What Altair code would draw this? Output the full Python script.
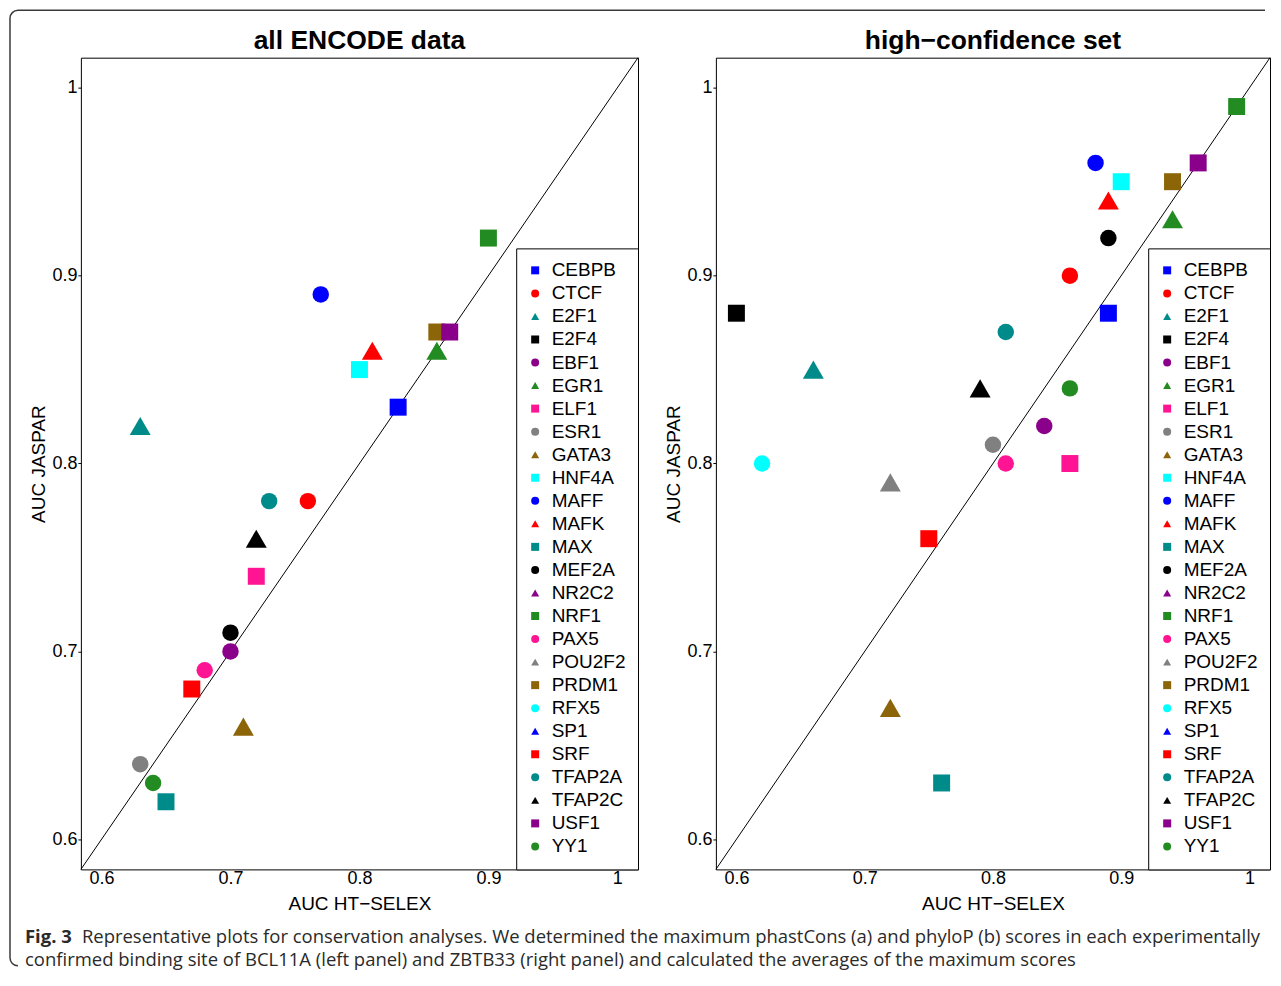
import altair as alt
import pandas as pd

# ---------------- data ----------------
tfs = ["CEBPB", "CTCF", "E2F1", "E2F4", "EBF1", "EGR1", "ELF1", "ESR1", "GATA3",
       "HNF4A", "MAFF", "MAFK", "MAX", "MEF2A", "NR2C2", "NRF1", "PAX5", "POU2F2",
       "PRDM1", "RFX5", "SP1", "SRF", "TFAP2A", "TFAP2C", "USF1", "YY1"]

left_tf = ["CEBPB", "CTCF", "E2F1", "EBF1", "EGR1", "ELF1", "ESR1", "GATA3", "HNF4A",
           "MAFF", "MAFK", "MAX", "MEF2A", "NRF1", "PAX5", "PRDM1", "SRF", "TFAP2A",
           "TFAP2C", "USF1", "YY1"]
left_htselex = [0.83, 0.76, 0.63, 0.70, 0.86, 0.72, 0.63, 0.71, 0.80,
                0.77, 0.81, 0.65, 0.70, 0.90, 0.68, 0.86, 0.67, 0.73,
                0.72, 0.87, 0.64]
left_jaspar = [0.83, 0.78, 0.82, 0.70, 0.86, 0.74, 0.64, 0.66, 0.85,
               0.89, 0.86, 0.62, 0.71, 0.92, 0.69, 0.87, 0.68, 0.78,
               0.76, 0.87, 0.63]

right_tf = ["CEBPB", "CTCF", "E2F1", "E2F4", "EBF1", "EGR1", "ELF1", "ESR1", "GATA3",
            "HNF4A", "MAFF", "MAFK", "MAX", "MEF2A", "NRF1", "PAX5", "POU2F2", "PRDM1",
            "RFX5", "SRF", "TFAP2A", "TFAP2C", "USF1", "YY1"]
right_htselex = [0.89, 0.86, 0.66, 0.60, 0.84, 0.94, 0.86, 0.80, 0.72,
                 0.90, 0.88, 0.89, 0.76, 0.89, 0.99, 0.81, 0.72, 0.94,
                 0.62, 0.75, 0.81, 0.79, 0.96, 0.86]
right_jaspar = [0.88, 0.90, 0.85, 0.88, 0.82, 0.93, 0.80, 0.81, 0.67,
                0.95, 0.96, 0.94, 0.63, 0.92, 0.99, 0.80, 0.79, 0.95,
                0.80, 0.76, 0.87, 0.84, 0.96, 0.84]

tick_values = [0.6, 0.7, 0.8, 0.9, 1.0]
titles = ["all ENCODE data", "high\u2212confidence set"]
x_title = "AUC HT\u2212SELEX"
y_title = "AUC JASPAR"

caption_bold = "Fig. 3"
caption_line1 = ("Representative plots for conservation analyses. We determined the maximum "
                 "phastCons (a) and phyloP (b) scores in each experimentally")
caption_line2 = ("confirmed binding site of BCL11A (left panel) and ZBTB33 (right panel) "
                 "and calculated the averages of the maximum scores")

# ---------------- styling ----------------
palette = ["#0000FF", "#FF0000", "#008B8B", "#000000", "#8B008B",
           "#228B22", "#FF1493", "#808080", "#8B6508", "#00FFFF"]
shape_cycle = ["square", "circle", "triangle-up"]
shape_sizes = [289, 272, 440]
colors = [palette[i % len(palette)] for i in range(len(tfs))]
shapes = [shape_cycle[i % len(shape_cycle)] for i in range(len(tfs))]
shape_of = dict(zip(tfs, shapes))

LO, HI = 0.584, 1.016
PW_L, PW_R, PH = 558, 555, 813
FONT = "Liberation Sans"
CAP_FONT = "Open Sans"
CAP_SIZE = 18.5


def legend():
    return alt.Legend(title=None, orient="bottom-right", offset=0, padding=12.5,
                      strokeColor="black", fillColor="white", labelFontSize=19,
                      labelFont=FONT, labelColor="black", symbolSize=64,
                      rowPadding=3.08, labelOffset=7, symbolOffset=-3,
                      symbolStrokeWidth=0, labelLimit=200)


def text_layer(txt, x, y, size, weight="normal", font=FONT, color="black",
               align="left"):
    return alt.Chart(pd.DataFrame({"t": [txt]})).mark_text(
        font=font, fontSize=size, fontWeight=weight, color=color, align=align,
        baseline="alphabetic"
    ).encode(text="t:N", x=alt.value(x), y=alt.value(y))


def panel(tf, xs, ys, title, width, extra=None):
    df = pd.DataFrame({"tf": tf, "htselex": xs, "jaspar": ys,
                       "kind": [shape_of[t] for t in tf]})
    xenc = alt.X("htselex:Q",
                 scale=alt.Scale(domain=[LO, HI], nice=False, zero=False),
                 axis=alt.Axis(values=tick_values, format="~g", title=x_title,
                               labelFontSize=18, ticks=False, tickSize=0,
                               labelPadding=0, titleFontSize=19, titlePadding=7,
                               labelFlush=False))
    yenc = alt.Y("jaspar:Q",
                 scale=alt.Scale(domain=[LO, HI], nice=False, zero=False),
                 axis=alt.Axis(values=tick_values, format="~g", title=y_title,
                               labelFontSize=18, tickSize=3, tickColor="black",
                               labelPadding=1, titleFontSize=19, titlePadding=3,
                               labelFlush=False))
    pts = alt.Chart(df).mark_point(filled=True, opacity=1).encode(
        x=xenc, y=yenc,
        color=alt.Color("tf:N", scale=alt.Scale(domain=tfs, range=colors), legend=legend()),
        shape=alt.Shape("tf:N", scale=alt.Scale(domain=tfs, range=shapes), legend=legend()),
        size=alt.Size("kind:N", scale=alt.Scale(type="ordinal", domain=shape_cycle,
                                                range=shape_sizes), legend=None),
    )
    diag = alt.Chart(pd.DataFrame({"htselex": [LO, HI], "jaspar": [LO, HI]})).mark_line(
        color="black", strokeWidth=1
    ).encode(x="htselex:Q", y="jaspar:Q")
    ttl = text_layer(title, width / 2, -8.5, 26.5, weight="bold", align="center")
    layers = [diag, pts, ttl]
    if extra:
        layers = extra + layers
    return alt.layer(*layers).properties(width=width, height=PH)


# border + caption live in the left panel (pixel positions relative to its plot origin)
bx0, bx1, by0, by1, r = -71, 1186, -47.5, 909.5, 8
bw, bh = bx1 - bx0, by1 - by0
arc = 3.14159 * r / 2
border = alt.Chart(pd.DataFrame({"k": [0]})).mark_rect(
    fillOpacity=0, stroke="#3a3a3a", strokeWidth=1.5, strokeJoin="round",
    cornerRadiusTopLeft=r, cornerRadiusBottomLeft=r,
    strokeDash=[bw - r, bh + (bw - r), arc + (bh - 2 * r) + arc + 1, 10]
).encode(x=alt.value(bx0), x2=alt.value(bx1), y=alt.value(by0), y2=alt.value(by1))

cap_layers = [
    text_layer(caption_bold, -56, 886.5, CAP_SIZE, weight="bold", font=CAP_FONT, color="#2a2a2a"),
    text_layer(caption_line1, 1, 886.5, CAP_SIZE, font=CAP_FONT, color="#2a2a2a"),
    text_layer(caption_line2, -56, 909.5, CAP_SIZE, font=CAP_FONT, color="#2a2a2a"),
]

left = panel(left_tf, left_htselex, left_jaspar, titles[0], PW_L, extra=[border] + cap_layers)
right = panel(right_tf, right_htselex, right_jaspar, titles[1], PW_R)

chart = alt.hconcat(left, right, spacing=78, bounds="flush").resolve_scale(
    color="independent", shape="independent", size="independent",
    x="independent", y="independent"
).resolve_legend(color="independent", shape="independent").properties(
    padding={"left": 0, "top": 0, "right": 0, "bottom": 0}
).configure_view(stroke="black", strokeWidth=1).configure_axis(
    grid=False, domain=False, labelFont=FONT, titleFont=FONT,
    labelColor="black", titleColor="black", titleFontWeight="normal"
).configure_legend(strokeWidth=1, cornerRadius=0)

chart.save("out.html", embed_options={"renderer": "svg", "actions": False})
